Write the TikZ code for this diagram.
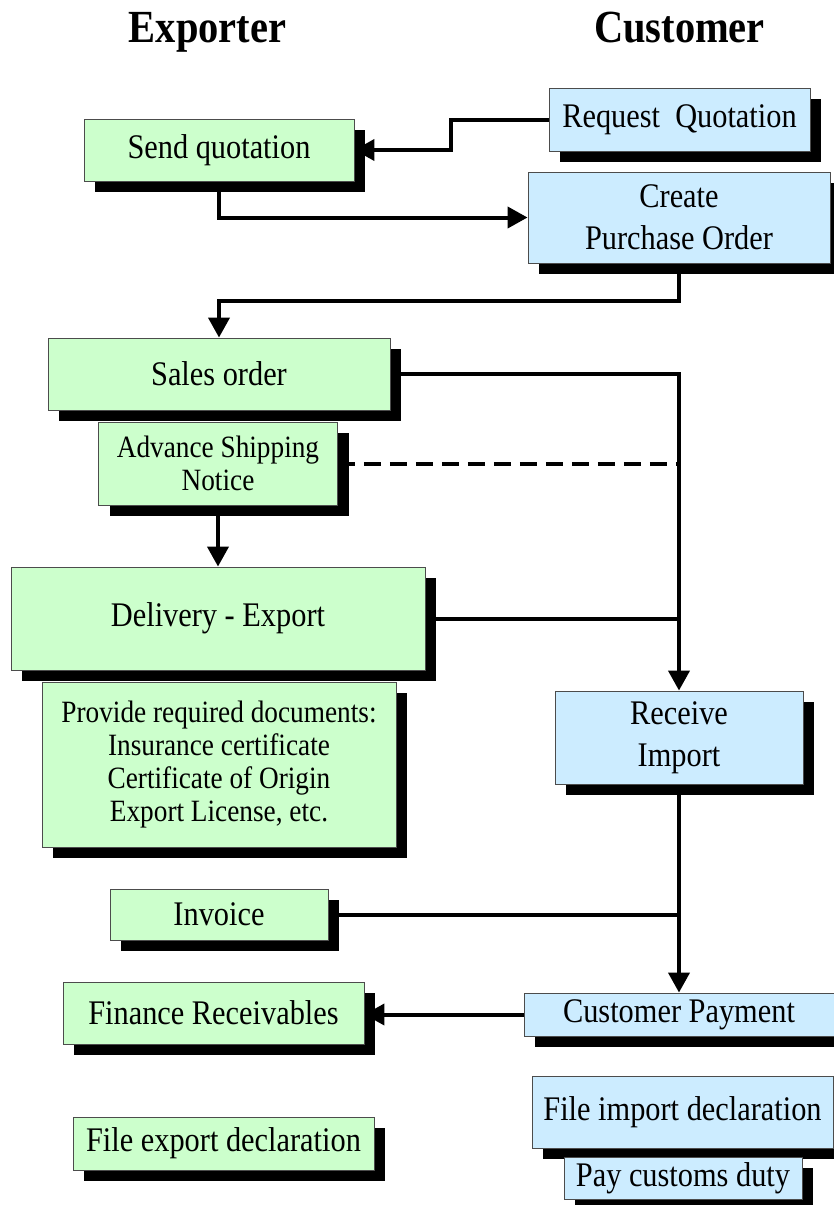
\documentclass[tikz,border=0pt]{standalone}
\usepackage{fontspec}
\setmainfont{Liberation Serif}[FakeStretch=0.88]
\usetikzlibrary{shadows,arrows.meta,backgrounds}
\definecolor{expgreen}{HTML}{CCFFCC}
\definecolor{cusblue}{HTML}{CCECFF}
\tikzset{
  box/.style={draw=black!70, line width=0.9pt, align=center, inner sep=0pt,
    font=\fontsize{34.5}{42}\selectfont,
    drop shadow={shadow xshift=11pt, shadow yshift=-11pt, fill=black, opacity=1}},
  exp/.style={box, fill=expgreen},
  cus/.style={box, fill=cusblue},
  smalltext/.style={font=\fontsize{31}{33}\selectfont},
  conn/.style={line width=4pt, -{Triangle[length=20pt,width=21pt]}},
  link/.style={line width=4pt},
  title/.style={font=\fontsize{46}{46}\selectfont\bfseries, anchor=base},
}
\begin{document}
\begin{tikzpicture}[x=1pt,y=-1pt]
\useasboundingbox (0,0) rectangle (833,1205);
% titles
\node[title] (t1) at (207.5,42) {Exporter};
\node[title] (t2) at (679.5,42) {Customer};
% boxes
\node[exp, minimum width=270pt, minimum height=62pt] (sq) at (219,150) {Send quotation};
\node[cus, minimum width=261pt, minimum height=63pt] (rq) at (679.5,119.5) {Request\ \ Quotation};
\node[cus, minimum width=302pt, minimum height=91pt] (cpo) at (679,217.5) {Create\\Purchase Order};
\node[exp, minimum width=342pt, minimum height=72pt] (so) at (219,374) {Sales order};
\node[exp, smalltext, minimum width=239pt, minimum height=83pt] (asn) at (218,463.5) {Advance Shipping\\Notice};
\node[exp, minimum width=414pt, minimum height=103pt] (de) at (218,618.5) {Delivery - Export};
\node[exp, smalltext, minimum width=354pt, minimum height=165pt] (docs) at (219,764.5) {Provide required documents:\\Insurance certificate\\Certificate of Origin\\Export License, etc.};
\node[cus, minimum width=248pt, minimum height=93pt] (ri) at (679,737.5) {Receive\\Import};
\node[exp, minimum width=218pt, minimum height=51pt] (inv) at (219,914.5) {Invoice};
\node[cus, minimum width=310pt, minimum height=43pt] (cp) at (679,1014.5) {Customer Payment};
\node[exp, minimum width=301pt, minimum height=62pt] (fr) at (213.5,1013) {Finance Receivables};
\node[exp, minimum width=301pt, minimum height=53pt] (fed) at (223.5,1143.5) {File export declaration};
\node[cus, minimum width=301pt, minimum height=72pt] (fid) at (682.5,1112) {File import declaration};
\node[cus, minimum width=238pt, minimum height=42pt] (pcd) at (683,1178) {Pay customs duty};
% connectors
\begin{pgfonlayer}{background}
\fill[white] (0,0) rectangle (833,1205);
\draw[conn] (rq.west) -- ++(-98,0) |- (sq.east);
\draw[conn] (sq.south) |- (cpo.west);
\draw[conn] (cpo.south) -- ++(0,38) -| (so.north);
\draw[conn] (so.east) -| (ri.north);
\draw[link, dash pattern=on 17pt off 9pt] (asn.east) -- (asn.east -| ri.north);
\draw[conn] (asn.south) -- (asn.south |- de.north);
\draw[link] (de.east) -- (de.east -| ri.north);
\draw[conn] (ri.south) -- (cp.north);
\draw[link] (inv.east) -- (inv.east -| ri.south);
\draw[conn] (cp.west) -- (cp.west -| fr.east);
\end{pgfonlayer}
\end{tikzpicture}
\end{document}
